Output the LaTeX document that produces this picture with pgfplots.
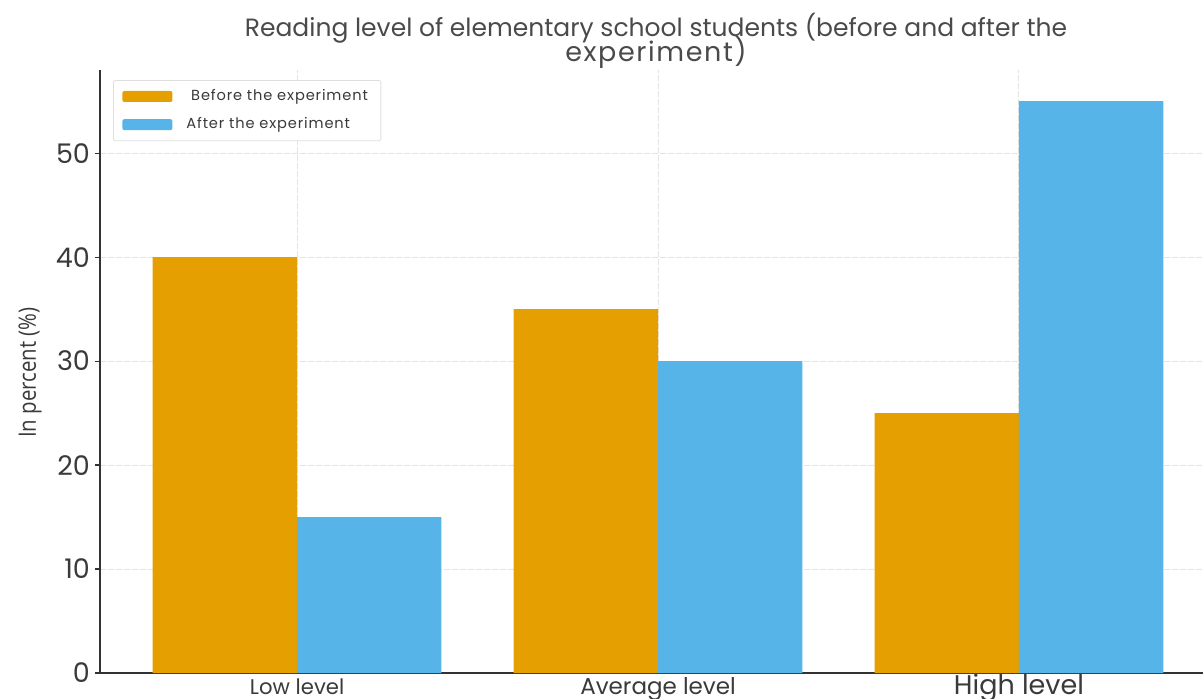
\documentclass[border=0pt]{standalone}
\usepackage{fontspec}
\setmainfont{Poppins}
\newfontfamily\ylabfont[FakeStretch=0.85]{Open Sans}
\newfontfamily\legfont[LetterSpace=6]{Poppins}
\newfontfamily\ttlfont[LetterSpace=6]{Poppins}
\usepackage{pgfplots}
\pgfplotsset{compat=1.18}
\definecolor{barorange}{HTML}{E69F00}
\definecolor{barblue}{HTML}{56B4E9}
\definecolor{spine}{HTML}{333333}
\definecolor{txt}{HTML}{3A3A3A}
\definecolor{ttl}{HTML}{4A4A4A}
\begin{document}
\begin{tikzpicture}
\begin{axis}[
  at={(0,0)}, anchor=south west,
  scale only axis,
  width=551.5pt, height=301.5pt,
  xmin=-0.546, xmax=2.51,
  ymin=0, ymax=58,
  axis x line*=bottom, axis y line*=left,
  axis line style={-, spine, line width=1pt},
  xtick={0,1,2},
  xticklabels={{\fontsize{10.6}{12}\selectfont Low level},{\fontsize{11.5}{13}\selectfont Average level},{\fontsize{13.5}{15}\selectfont High level}},
  ytick={0,10,20,30,40,50},
  tick align=outside,
  major tick length=2.5pt,
  tick style={spine, line width=0.6pt},
  xtick style={draw=none},
  /pgf/number format/assume math mode=true,
  yticklabel style={font=\fontsize{13.5}{15}\selectfont, text=txt, xshift=1pt},
  xticklabel style={text=txt, anchor=base, yshift=-8pt},
  grid=major,
  major grid style={gray!22, line width=0.5pt, dash pattern=on 3pt off 1pt},
  ybar=0pt, bar width=0.4,
  legend style={at={(axis description cs:0.0118,0.9834)}, anchor=north west,
    draw=gray!25, rounded corners=1pt, fill=white,
    font=\legfont\fontsize{7.3}{8}\selectfont, text=txt,
    inner xsep=4.5pt, inner ysep=2.5pt, row sep=3pt,
    /tikz/every odd column/.append style={column sep=5pt}},
  legend cell align=left,
  legend image code/.code={\fill[#1, draw=none] (0pt,-2.75pt) rectangle (25pt,2.75pt);},
]
\addplot[fill=barorange, draw=none, bar shift=-0.2] coordinates {(0,40) (1,35) (2,25)};
\addlegendentry{\ Before the experiment}
\addplot[fill=barblue, draw=none, bar shift=0.2] coordinates {(0,15) (1,30) (2,55)};
\addlegendentry{After the experiment}
\end{axis}
\node[anchor=base, text=ttl, font=\fontsize{12.5}{14}\selectfont] at (278pt,318.5pt) {Reading level of elementary school students (before and after the};
\node[anchor=base, text=ttl, font=\ttlfont\fontsize{13.5}{15}\selectfont] at (278pt,305.5pt) {experiment)};
\node[rotate=90, anchor=center, text=txt, font=\ylabfont\fontsize{12}{14}\selectfont] at (-35pt,150.25pt) {In percent (\%)};
\pgfresetboundingbox
\path[use as bounding box] (-50pt,-12.5pt) rectangle (551.5pt,336.5pt);
\end{tikzpicture}
\end{document}
